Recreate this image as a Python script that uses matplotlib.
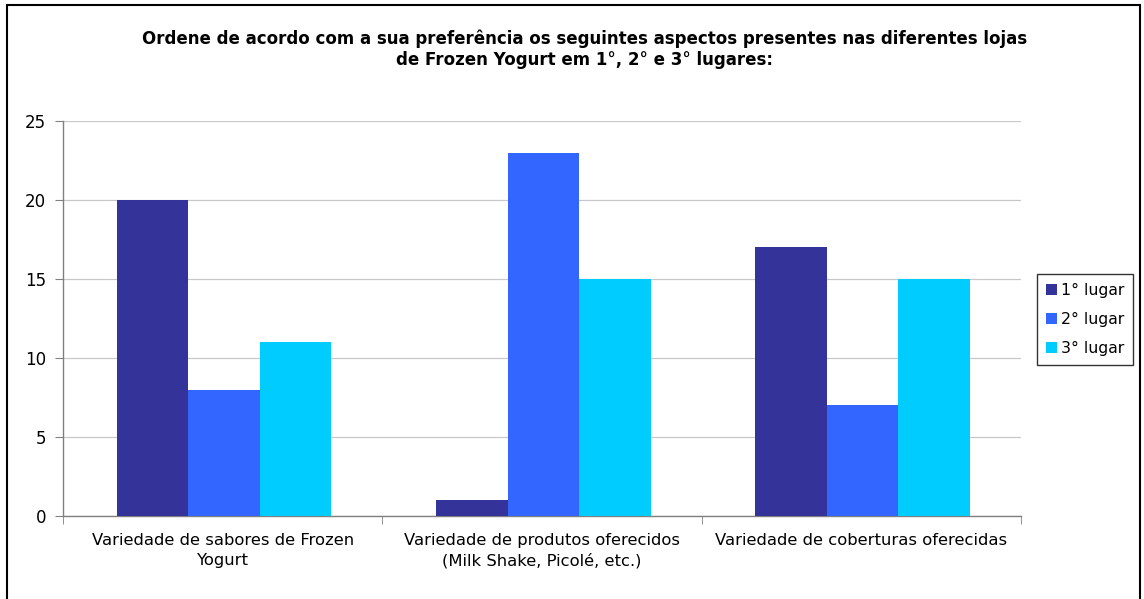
import matplotlib
matplotlib.use("Agg")
import matplotlib.pyplot as plt
from matplotlib.patches import Rectangle, Patch
import numpy as np

categories = [
    "Variedade de sabores de Frozen\nYogurt",
    "Variedade de produtos oferecidos\n(Milk Shake, Picolé, etc.)",
    "Variedade de coberturas oferecidas",
]
series_names = ["1° lugar", "2° lugar", "3° lugar"]
primeiro = [20, 1, 17]
segundo = [8, 23, 7]
terceiro = [11, 15, 15]
colors = ["#333399", "#3366FF", "#00CCFF"]
title = ("Ordene de acordo com a sua preferência os seguintes aspectos presentes nas diferentes lojas\n"
         "de Frozen Yogurt em 1°, 2° e 3° lugares:")

W, H = 1144, 599
fig = plt.figure(figsize=(W / 100, H / 100), dpi=100)
fig.patch.set_facecolor("white")

# outer chart frame
fig.add_artist(Rectangle((7 / W, -0.05), (1140 - 7) / W, (H - 5) / H + 0.05,
                         transform=fig.transFigure, fill=False,
                         edgecolor="black", linewidth=1.5, clip_on=False))

ax = fig.add_axes([63 / W, 1 - 516 / H, (1021 - 63) / W, (516 - 121) / H])

x = np.arange(len(categories))
bw = 0.224
for i, (vals, name) in enumerate(zip([primeiro, segundo, terceiro], series_names)):
    ax.bar(x + (i - 1) * bw + 0.004, vals, width=bw, color=colors[i], label=name,
           zorder=3, linewidth=0)

ax.set_xlim(-0.5, len(categories) - 0.5)
ax.set_ylim(0, 25)
ax.set_yticks([0, 5, 10, 15, 20, 25])
ax.yaxis.grid(True, color="#c8c8c8", linewidth=0.9, zorder=0)
ax.set_axisbelow(True)

for s in ["top", "right"]:
    ax.spines[s].set_visible(False)
for s in ["left", "bottom"]:
    ax.spines[s].set_color("#808080")
    ax.spines[s].set_linewidth(1.0)

ax.tick_params(axis="y", length=6, color="#808080", labelsize=12, pad=6)
ax.set_xticks(x)
ax.set_xticklabels(categories, fontsize=11.8, linespacing=1.45)
ax.tick_params(axis="x", length=0, pad=12)
ax.set_xticks(np.arange(len(categories) + 1) - 0.5, minor=True)
ax.tick_params(axis="x", which="minor", length=6, color="#808080")

fig.text(585 / W, 1 - 49 / H, title, ha="center", va="center",
         fontsize=12, fontweight="bold", linespacing=1.25)

handles = [Patch(facecolor=c, edgecolor="none") for c in colors]
leg = fig.legend(handles, series_names, loc="upper left",
                 bbox_to_anchor=(1037 / W, 1 - 274 / H),
                 fontsize=11.3, frameon=True, fancybox=False,
                 handlelength=0.7, handleheight=0.7, handletextpad=0.3,
                 labelspacing=0.9, borderpad=0.55, borderaxespad=0)
leg.get_frame().set_edgecolor("black")
leg.get_frame().set_linewidth(1.0)

fig.savefig("out.png", dpi=100, facecolor="white")
